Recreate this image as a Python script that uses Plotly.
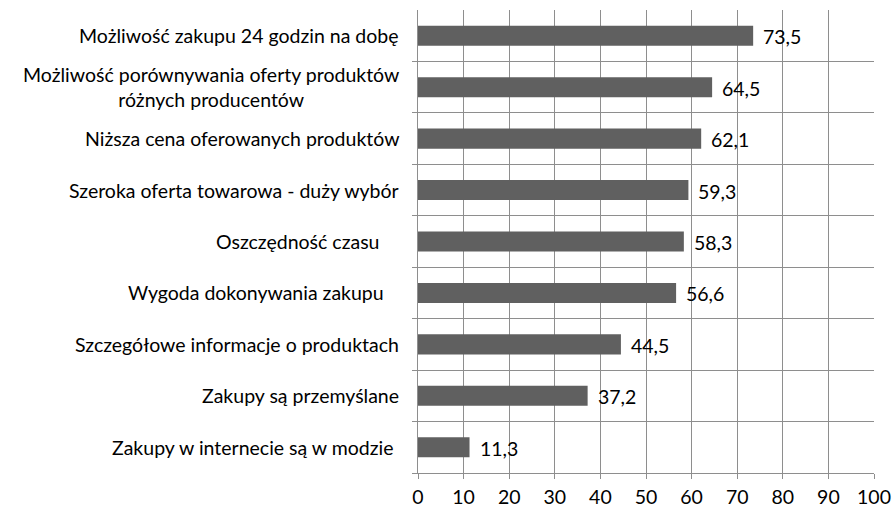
import plotly.graph_objects as go

categories = [
    "Możliwość zakupu 24 godzin na dobę",
    "Możliwość porównywania oferty produktów<br>różnych producentów",
    "Niższa cena oferowanych produktów",
    "Szeroka oferta towarowa - duży wybór",
    "Oszczędność czasu\u00a0\u00a0\u00a0\u00a0",
    "Wygoda dokonywania zakupu\u00a0\u00a0\u00a0",
    "Szczegółowe informacje o produktach",
    "Zakupy są przemyślane",
    "Zakupy w internecie są w modzie\u00a0",
]
values = [73.5, 64.5, 62.1, 59.3, 58.3, 56.6, 44.5, 37.2, 11.3]
value_labels = ["73,5", "64,5", "62,1", "59,3", "58,3", "56,6", "44,5", "37,2", "11,3"]
x_ticks = list(range(0, 101, 10))

FONT = "Lato"
FS = 19.5
GRID = "#8e8e8e"

n = len(categories)
idx = list(range(n))
# category boundaries (between bars and at the bottom edge)
boundaries = [i + 0.5 for i in idx]

fig = go.Figure()
fig.add_trace(go.Bar(
    x=values,
    y=idx,
    orientation="h",
    marker=dict(color="#606060", line=dict(width=0)),
    width=0.39,
    hoverinfo="skip",
))

annotations = []
for i, (cat, v, lab) in enumerate(zip(categories, values, value_labels)):
    annotations.append(dict(
        x=0, xref="paper", xanchor="right", xshift=-17,
        y=i, yref="y", yanchor="middle",
        text=cat, showarrow=False, align="center",
        font=dict(family=FONT, size=FS, color="#000000"),
    ))
    annotations.append(dict(
        x=v, xref="x", xanchor="left", xshift=8,
        y=i, yref="y", yanchor="middle", yshift=-1,
        text=lab, showarrow=False,
        font=dict(family=FONT, size=FS, color="#000000"),
    ))

fig.update_layout(
    width=894, height=510,
    margin=dict(l=418, r=20, t=10, b=37, autoexpand=False),
    paper_bgcolor="white", plot_bgcolor="white",
    showlegend=False,
    annotations=annotations,
    font=dict(family=FONT, size=FS, color="#000000"),
    xaxis=dict(
        range=[0, 100], tickvals=x_ticks, ticktext=[str(t) for t in x_ticks],
        showgrid=True, gridcolor=GRID, gridwidth=1,
        ticks="outside", ticklen=5, tickcolor=GRID,
        ticklabelstandoff=2,
        showline=True, linecolor=GRID, linewidth=1,
        zeroline=False, fixedrange=True, automargin=False,
        tickfont=dict(family=FONT, size=FS, color="#000000"),
    ),
    yaxis=dict(
        range=[n - 0.5, -0.5],
        tickmode="array", tickvals=boundaries,
        showticklabels=False,
        showgrid=True, gridcolor=GRID, gridwidth=1,
        ticks="outside", ticklen=5, tickcolor=GRID,
        showline=True, linecolor=GRID, linewidth=1,
        zeroline=False, automargin=False, fixedrange=True,
    ),
)
fig.write_html(
    "out.html",
    config={"displayModeBar": False},
    post_script="document.body.style.margin='0';",
)
